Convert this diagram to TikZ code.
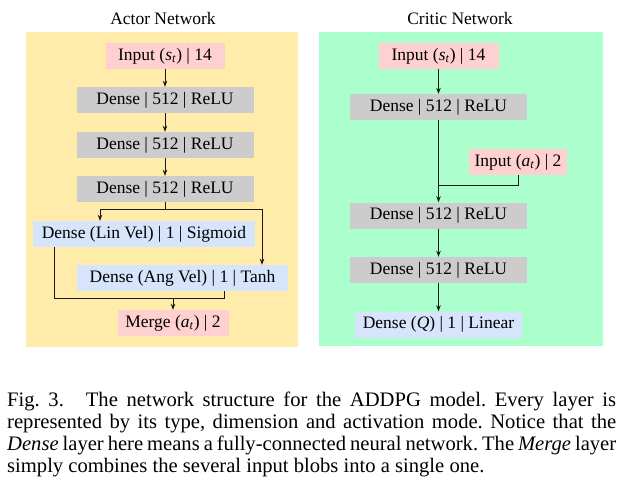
\documentclass[tikz,border=0pt]{standalone}
\usepackage{fontspec}
\setmainfont{Liberation Serif}
\usetikzlibrary{arrows.meta}
\definecolor{actorbg}{RGB}{255,235,170}
\definecolor{criticbg}{RGB}{170,255,204}
\definecolor{inpink}{RGB}{255,208,208}
\definecolor{densegray}{RGB}{204,204,204}
\definecolor{outblue}{RGB}{214,228,252}
\newcommand{\sub}[2]{\textit{#1}\textsubscript{\textit{#2}}}
\tikzset{
  layer/.style={minimum height=26pt, inner sep=0pt, text height=12pt, text depth=4pt},
  pinkbox/.style={layer, fill=inpink},
  graybox/.style={layer, fill=densegray, minimum width=177pt},
  bluebox/.style={layer, fill=outblue},
  conn/.style={line width=0.8pt, draw=black!90},
  arr/.style={conn, -{Stealth[length=6pt,width=4.5pt]}},
  captext/.style={inner sep=0pt, anchor=base west, font=\fontsize{20.6}{22}\selectfont},
  paneltitle/.style={inner sep=0pt, anchor=base}
}
\frenchspacing
\begin{document}
\begin{tikzpicture}[x=1pt,y=-1pt,font=\fontsize{17.5}{21}\selectfont]
\useasboundingbox[fill=white] (0,0) rectangle (633,490);
% panels
\fill[actorbg] (26,32) rectangle (298,347);
\fill[criticbg] (319,32) rectangle (603,346);
\node[paneltitle] (atitle) at (163,24.5) {Actor Network};
\node[paneltitle] (ctitle) at (460,24.5) {Critic Network};
% actor network
\node[pinkbox, minimum width=119pt] (ain) at (165,56) {Input (\sub{s}{t}) | 14};
\node[graybox] (ad1) at (165,100) {Dense | 512 | ReLU};
\node[graybox] (ad2) at (165,145) {Dense | 512 | ReLU};
\node[graybox] (ad3) at (165,189) {Dense | 512 | ReLU};
\node[bluebox, minimum width=222pt] (alin) at (144,234) {Dense (Lin Vel) | 1 | Sigmoid};
\node[bluebox, minimum width=211pt] (aang) at (182.5,278) {Dense (Ang Vel) | 1 | Tanh};
\node[pinkbox, minimum width=111pt] (amerge) at (173,323) {Merge (\sub{a}{t}) | 2};
\draw[arr] (ain) -- (ad1);
\draw[arr] (ad1) -- (ad2);
\draw[arr] (ad2) -- (ad3);
\coordinate (asplit) at (165,209);
\coordinate (al) at (100,209);
\coordinate (ar) at (262,209);
\draw[conn] (ad3.south) -- (asplit);
\draw[arr] (asplit) -- (al) -- (al |- alin.north);
\draw[arr] (asplit) -- (ar) -- (ar |- aang.north);
\coordinate (ml) at (54,298);
\coordinate (mr) at (224,298);
\coordinate (mj) at (173,298);
\draw[conn] (ml |- alin.south) -- (ml) -- (mr) -- (mr |- aang.south);
\draw[arr] (mj) -- (amerge.north);
% critic network
\node[pinkbox, minimum width=120pt] (cin) at (438.5,56) {Input (\sub{s}{t}) | 14};
\node[graybox] (cd1) at (438.5,107) {Dense | 512 | ReLU};
\node[pinkbox, minimum width=98pt] (cina) at (518,162) {Input (\sub{a}{t}) | 2};
\node[graybox] (cd2) at (438.5,215.5) {Dense | 512 | ReLU};
\node[graybox] (cd3) at (438.5,270) {Dense | 512 | ReLU};
\node[bluebox, minimum width=167pt] (cq) at (438.5,324.5) {Dense (\textit{Q}) | 1 | Linear};
\draw[arr] (cin) -- (cd1);
\draw[arr] (cd1) -- (cd2);
\coordinate (cj) at (438.5,185);
\draw[conn] (cina.south) -- (cina.south |- cj) -- (cj);
\draw[arr] (cd2) -- (cd3);
\draw[arr] (cd3) -- (cq);
% caption
\node[captext] (cap1) at (7,406) {\makebox[609pt][s]{Fig.~3.\hspace{22pt}The network structure for the ADDPG model. Every layer is}};
\node[captext] (cap2) at (7,428) {\makebox[609pt][s]{represented by its type, dimension and activation mode. Notice that the}};
\node[captext] (cap3) at (7,450) {\makebox[609pt][s]{\textit{Dense} layer here means a fully-connected neural network. The \textit{Merge} layer}};
\node[captext] (cap4) at (7,472) {simply combines the several input blobs into a single one.};
\end{tikzpicture}
\end{document}
